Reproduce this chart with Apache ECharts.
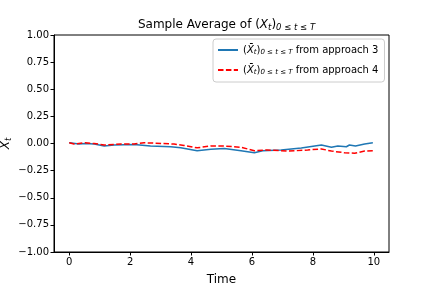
<!DOCTYPE html>
<html>
<head>
<meta charset="utf-8">
<script src="https://cdn.jsdelivr.net/npm/echarts@6/dist/echarts.min.js"></script>
<style>html,body{margin:0;padding:0;background:#fff}#c{width:432px;height:288px}</style>
</head>
<body>
<div id="c"></div>
<script>
var timesA = [0, 0.32, 0.54, 0.82, 1.15, 1.47, 2.13, 2.67, 3.33, 3.66, 4.2, 4.65, 5.09, 5.64, 6.08, 6.35, 6.96, 7.62, 8.28, 8.61, 8.82, 9.1, 9.2, 9.4, 9.7, 9.97];
var valuesA = [0.007, -0.005, 0, -0.005, -0.023, -0.014, -0.01, -0.023, -0.03, -0.04, -0.066, -0.053, -0.047, -0.066, -0.085, -0.066, -0.06, -0.041, -0.014, -0.035, -0.023, -0.03, -0.014, -0.023, -0.005, 0.007];
var timesB = [0, 0.16, 0.5, 0.82, 1.15, 1.7, 2.13, 2.46, 3.1, 3.44, 3.77, 4.2, 4.65, 5.09, 5.64, 6.08, 6.5, 7.2, 7.83, 8.28, 8.61, 9.04, 9.37, 9.7, 9.97];
var valuesB = [0.007, -0.005, 0.007, 0, -0.014, -0.005, -0.005, 0.007, 0, -0.005, -0.018, -0.04, -0.023, -0.023, -0.035, -0.066, -0.06, -0.07, -0.06, -0.05, -0.07, -0.085, -0.09, -0.07, -0.066];
var xTicks = [0, 2, 4, 6, 8, 10];
var seriesNames = ['approach 3', 'approach 4'];

function pairs(t, v) { return t.map(function (x, i) { return [x, v[i]]; }); }

var FONT = 'DejaVu Sans';
var chart = echarts.init(document.getElementById('c'), null, {renderer: 'canvas'});
var subRich = {
  n: {fontFamily: FONT, fontSize: 10, color: '#000'},
  i: {fontFamily: FONT, fontSize: 10, fontStyle: 'italic', color: '#000'},
  s: {fontFamily: FONT, fontSize: 7, fontStyle: 'italic', color: '#000', padding: [5, 0, 0, 0]}
};
var bigRich = {
  i: {fontFamily: FONT, fontSize: 12, fontStyle: 'italic', color: '#000'},
  s: {fontFamily: FONT, fontSize: 8.5, fontStyle: 'italic', color: '#000', padding: [6, 0, 0, 0]}
};
chart.setOption({
  animation: false,
  backgroundColor: '#fff',
  title: {
    text: 'Sample Average of ({i|X}{s|t}){s|0 ≤ t ≤ T}',
    left: 221.5, textAlign: 'center', top: 12,
    textStyle: {fontFamily: FONT, fontSize: 12, fontWeight: 'normal', color: '#000', rich: bigRich}
  },
  graphic: [{
    type: 'text', x: 6, y: 143.5, rotation: Math.PI / 2,
    style: {text: '{i|X}{s|t}', rich: bigRich, fontFamily: FONT, fontSize: 12, fill: '#000',
            align: 'center', verticalAlign: 'middle'}
  }],
  grid: {left: 54, right: 43, top: 35, bottom: 36, show: true, borderColor: '#000', borderWidth: 1,
         containLabel: false, outerBoundsMode: 'none'},
  legend: {
    orient: 'vertical', left: 213, top: 39,
    backgroundColor: 'rgba(255,255,255,0.8)', borderColor: '#ccc', borderWidth: 1, borderRadius: 3,
    padding: [6, 6, 6, 4], itemGap: 9, itemWidth: 20, itemHeight: 12,
    itemStyle: {opacity: 0},
    formatter: function (name) { return '({i|X̄}{s|t}){s|0 ≤ t ≤ T}{n| from ' + name + '}'; },
    textStyle: {fontFamily: FONT, fontSize: 10, color: '#000', rich: subRich},
    data: seriesNames
  },
  xAxis: {
    type: 'value', min: -0.5, max: 10.5,
    name: 'Time', nameLocation: 'middle', nameGap: 22,
    nameTextStyle: {fontFamily: FONT, fontSize: 12, color: '#000'},
    axisLine: {show: true, onZero: false, lineStyle: {color: '#000', width: 1}},
    axisTick: {show: true, length: 3.5, lineStyle: {color: '#000'}, customValues: xTicks},
    axisLabel: {fontFamily: FONT, fontSize: 10, color: '#000', margin: 5, customValues: xTicks},
    splitLine: {show: false}
  },
  yAxis: {
    type: 'value', min: -1, max: 1, interval: 0.25,
    axisLine: {show: true, onZero: false, lineStyle: {color: '#000', width: 1}},
    axisTick: {show: true, length: 3.5, lineStyle: {color: '#000'}},
    axisLabel: {fontFamily: FONT, fontSize: 10, color: '#000', margin: 5,
      formatter: function (v) { return v.toFixed(2).replace('-', '\u2212'); }},
    splitLine: {show: false}
  },
  series: [
    {name: seriesNames[0], type: 'line', data: pairs(timesA, valuesA), showSymbol: false, symbol: 'none',
     lineStyle: {color: '#1f77b4', width: 1.5}, itemStyle: {color: '#1f77b4'}},
    {name: seriesNames[1], type: 'line', data: pairs(timesB, valuesB), showSymbol: false, symbol: 'none',
     lineStyle: {color: '#ff0000', width: 1.5, type: [5.5, 2.4]}, itemStyle: {color: '#ff0000'}}
  ]
});
</script>
</body>
</html>
